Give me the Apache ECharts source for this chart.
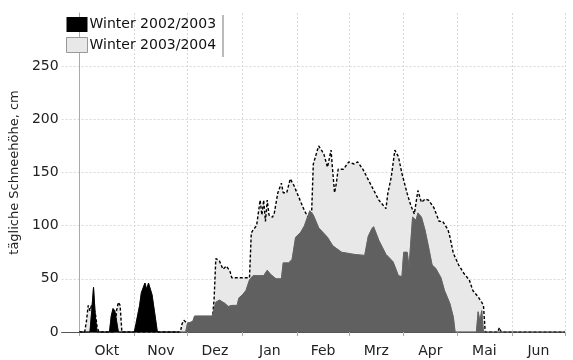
<!DOCTYPE html>
<html>
<head>
<meta charset="utf-8">
<title>Schneehöhe</title>
<script src="https://cdn.jsdelivr.net/npm/echarts@6/dist/echarts.min.js"></script>
<style>
  html, body { margin: 0; padding: 0; background: #fff; }
  #chart { width: 573px; height: 360px; }
</style>
</head>
<body>
<div id="chart"></div>
<script>
// Tage ab 1. Oktober
const monthNames = ['Okt', 'Nov', 'Dez', 'Jan', 'Feb', 'Mrz', 'Apr', 'Mai', 'Jun']
const monthStarts = [0, 31, 61, 92, 123, 152, 183, 213, 244, 274]

// Winter 2002/2003
const winter0203Days = [0, 6, 7, 8, 9, 10, 17, 18, 19, 20, 21, 22, 31, 32, 34, 35, 37, 38, 39, 41, 43, 44,
  60, 61, 64, 65, 75, 77, 79, 82, 84, 86, 89, 90, 92, 94, 96, 98, 104, 106, 108, 111, 114, 115, 118, 120,
  122, 125, 127, 130, 132, 135, 140, 143, 148, 155, 161, 163, 165, 166, 169, 173, 177, 180, 182, 183, 185,
  186, 188, 190, 191, 193, 195, 197, 199, 201, 204, 206, 209, 211, 212, 224, 225, 226, 227, 228, 274]
const winter0203Cm = [0, 0, 20, 42, 15, 0, 0, 15, 22, 20, 10, 0, 0, 8, 25, 37, 46, 40, 46, 35, 12, 0,
  0, 8, 10, 15, 15, 28, 30, 27, 24, 25, 25, 32, 35, 39, 49, 53, 53, 58, 54, 50, 50, 65, 65, 68,
  89, 94, 100, 114, 110, 98, 89, 81, 75, 73, 72, 90, 97, 99, 86, 73, 66, 53, 52, 75, 75,
  61, 108, 105, 112, 108, 96, 80, 63, 60, 51, 39, 27, 14, 0, 0, 19, 10, 20, 0, 0]

// Winter 2003/2004
const winter0304Days = [0, 3, 4, 5, 6, 7, 9, 10, 11, 20, 21, 22, 23, 24, 57, 58, 59, 60, 61, 75, 76, 77,
  79, 81, 83, 85, 86, 96, 97, 98, 100, 102, 103, 104, 105, 106, 107, 109, 110, 112, 114, 115, 117, 119,
  121, 123, 127, 129, 131, 132, 135, 137, 138, 140, 142, 143, 144, 145, 146, 149, 152, 155, 157, 160,
  164, 169, 173, 174, 176, 178, 180, 182, 185, 187, 189, 191, 193, 195, 197, 200, 203, 205, 208, 209,
  211, 214, 217, 220, 222, 225, 227, 228, 229, 236, 237, 238, 274]
const winter0304Cm = [0, 0, 10, 25, 20, 26, 18, 5, 0, 0, 20, 28, 25, 0, 0, 8, 11, 11, 8, 12, 30, 69,
  67, 59, 62, 57, 51, 51, 93, 96, 100, 124, 110, 124, 104, 124, 110, 108, 112, 131, 140, 131, 131, 144,
  138, 130, 114, 108, 110, 158, 175, 170, 167, 155, 171, 150, 131, 140, 153, 153, 160, 158, 160, 153,
  140, 124, 116, 130, 146, 171, 165, 149, 130, 119, 111, 133, 122, 125, 124, 117, 104, 104, 96, 90,
  74, 63, 55, 49, 39, 33, 28, 25, 0, 0, 4, 0, 0]

const yTicks = [0, 50, 100, 150, 200, 250]

// ab diesem Tag wird 2002/2003 dunkelgrau statt schwarz gezeichnet
const darkFromDay = 56

function toPairs(days, values) {
  return days.map((d, i) => [d, values[i]])
}

// Monatsnamen in der Mitte des Monats
const labelPositions = monthNames.map((m, i) => (monthStarts[i] + monthStarts[i + 1]) / 2)

const chart = echarts.init(document.getElementById('chart'))
const font = 'DejaVu Sans, Verdana, sans-serif'

const option = {
  animation: false,
  textStyle: { fontFamily: font },
  grid: { left: 60, right: 8, top: 13, bottom: 28 },
  legend: {
    orient: 'vertical',
    left: 66,
    top: 17,
    padding: 0,
    itemWidth: 21,
    itemHeight: 15,
    itemGap: 5,
    icon: 'rect',
    textStyle: { fontSize: 14, color: '#111', fontFamily: font, padding: [0, 0, 0, -3] },
    data: [
      { name: 'Winter 2002/2003', itemStyle: { color: '#000' } },
      { name: 'Winter 2003/2004', itemStyle: { color: '#e8e8e8', borderColor: '#999', borderWidth: 1 } }
    ]
  },
  graphic: [
    {
      type: 'line',
      shape: { x1: 223, y1: 15, x2: 223, y2: 57 },
      style: { stroke: '#777', lineWidth: 1 }
    }
  ],
  xAxis: {
    type: 'value',
    min: -10,
    max: 274,
    axisLine: { show: true, lineStyle: { color: '#555', width: 1 } },
    axisTick: {
      show: true,
      customValues: monthStarts,
      length: 4,
      lineStyle: { color: '#aaa' }
    },
    axisLabel: {
      customValues: labelPositions,
      formatter: v => {
        const i = labelPositions.indexOf(v)
        return i >= 0 ? monthNames[i] : ''
      },
      fontSize: 14,
      color: '#222',
      margin: 12
    },
    splitLine: {
      show: true,
      lineStyle: { color: '#d8d8d8', type: [2, 2] }
    }
  },
  yAxis: {
    type: 'value',
    min: 0,
    max: 300,
    interval: 50,
    name: 'tägliche Schneehöhe, cm',
    nameLocation: 'middle',
    nameGap: 29,
    nameTextStyle: { fontSize: 13, color: '#222' },
    axisLine: { show: true, lineStyle: { color: '#aaa' } },
    axisTick: { show: false },
    axisLabel: {
      fontSize: 14,
      color: '#222',
      margin: 3,
      showMaxLabel: false,
      formatter: v => (yTicks.includes(v) ? String(v) : '')
    },
    splitLine: {
      show: true,
      showMaxLine: false,
      lineStyle: { color: '#d8d8d8', type: [2, 2] }
    }
  },
  series: [
    {
      name: 'Winter 2003/2004',
      type: 'line',
      data: toPairs(winter0304Days, winter0304Cm),
      showSymbol: false,
      color: '#e8e8e8',
      lineStyle: { color: '#000', width: 1.4, type: [3, 2] },
      areaStyle: { color: '#e8e8e8', opacity: 1 },
      z: 2
    },
    {
      name: 'Winter 2002/2003',
      type: 'line',
      data: toPairs(winter0203Days, winter0203Cm),
      showSymbol: false,
      color: '#000',
      lineStyle: { width: 0.8, color: '#000' },
      areaStyle: { color: '#000', opacity: 1 },
      z: 3
    }
  ]
}

chart.setOption(option)

// Farbwechsel schwarz -> dunkelgrau über einen globalen Verlauf
const splitX = chart.convertToPixel({ xAxisIndex: 0 }, darkFromDay)
const width = chart.getWidth()
const p = splitX / width
const fill = {
  type: 'linear', global: true, x: 0, y: 0, x2: width, y2: 0,
  colorStops: [
    { offset: 0, color: '#000' },
    { offset: p, color: '#000' },
    { offset: p, color: '#606060' },
    { offset: 1, color: '#606060' }
  ]
}
chart.setOption({
  series: [{}, { areaStyle: { color: fill }, lineStyle: { color: fill } }]
})
</script>
</body>
</html>
